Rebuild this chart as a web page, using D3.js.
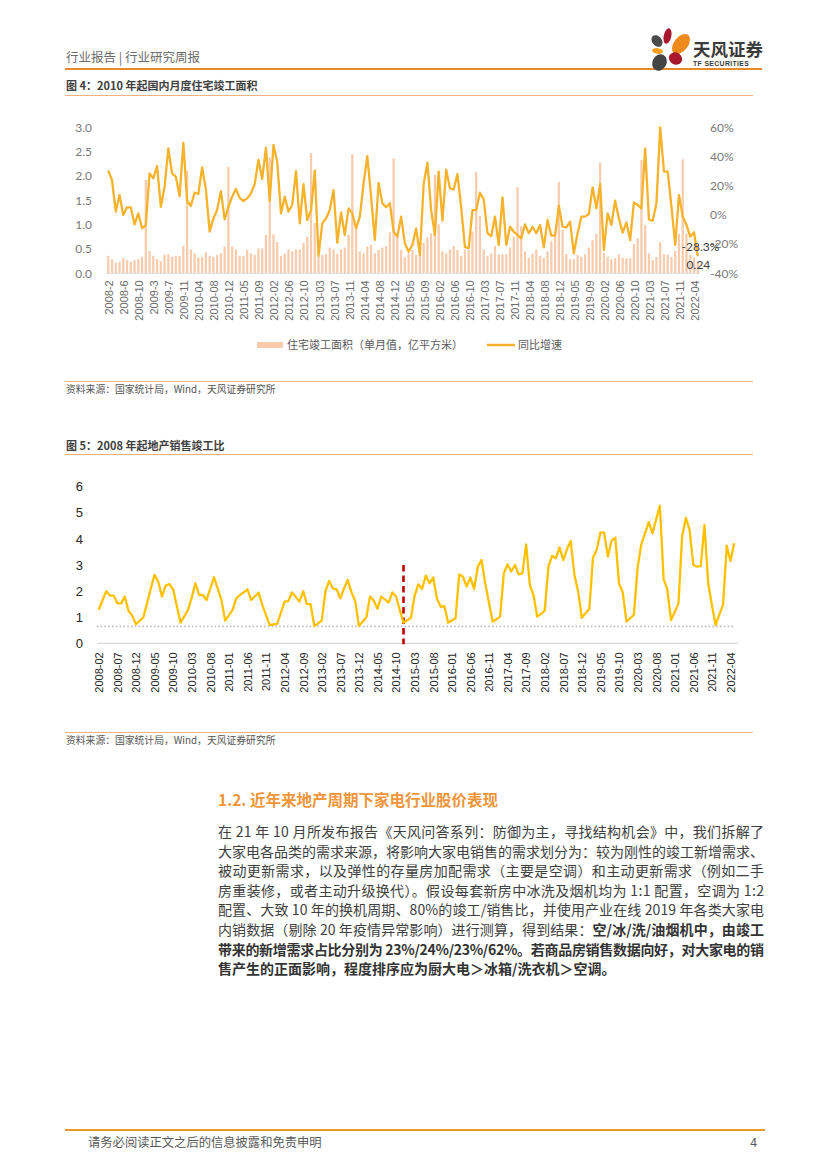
<!DOCTYPE html>
<html><head><meta charset="utf-8">
<script src="https://cdn.jsdelivr.net/npm/d3@7"></script>
<style>
html,body{margin:0;padding:0;background:#fff;}
svg{display:block;}
text{font-family:"Noto Sans CJK SC","Noto Sans",sans-serif;}
</style></head>
<body>
<svg id="page" width="827" height="1169"></svg>
<script>
// ---------- DATA ----------
// Chart 1: monthly residential completion area (Feb–Dec each year, 2008-2 .. 2022-05)
const chart1Years = [2008,2009,2010,2011,2012,2013,2014,2015,2016,2017,2018,2019,2020,2021,2022];
const completionArea = [ // 亿平方米
  0.36,0.29,0.22,0.24,0.31,0.27,0.24,0.27,0.29,0.34,1.92,
  0.46,0.36,0.29,0.25,0.38,0.39,0.34,0.36,0.36,0.56,2.10,
  0.49,0.41,0.32,0.34,0.43,0.36,0.34,0.38,0.41,0.55,2.19,
  0.55,0.49,0.36,0.36,0.48,0.41,0.38,0.51,0.51,0.79,2.38,
  0.80,0.64,0.36,0.41,0.49,0.45,0.49,0.49,0.62,0.75,2.47,
  1.03,0.34,0.38,0.40,0.53,0.49,0.40,0.49,0.53,0.79,2.45,
  1.00,0.45,0.41,0.55,0.58,0.41,0.48,0.53,0.56,0.84,2.36,
  0.75,0.48,0.33,0.41,0.48,0.38,0.38,0.63,0.74,0.82,2.02,
  1.01,0.45,0.41,0.49,0.56,0.48,0.36,0.49,0.48,0.86,2.08,
  1.18,0.49,0.36,0.41,0.56,0.39,0.39,0.39,0.53,0.75,1.77,
  0.97,0.45,0.32,0.40,0.49,0.36,0.32,0.45,0.66,0.77,1.88,
  0.89,0.40,0.29,0.29,0.38,0.34,0.39,0.53,0.68,0.81,2.27,
  0.42,0.34,0.29,0.31,0.39,0.32,0.31,0.31,0.60,0.72,2.33,
  0.99,0.41,0.27,0.34,0.64,0.39,0.38,0.34,0.46,0.81,2.34,
  0.82,0.38,0.32,0.24
];
const completionYoY = [ // %
  30.3,23.9,2.2,13.6,-0.1,5.2,5.2,-6.5,1.0,-9.2,-7.0,
  28.4,25.0,33.5,5.6,19.3,45.6,28.4,26.2,12.9,49.4,9.8,
  6.1,15.2,14.3,32.5,17.5,-11.5,-2.4,3.3,16.3,-3.1,5.6,
  12.5,17.7,11.7,9.5,11.3,14.7,21.1,37.6,24.6,46.1,9.5,
  47.9,36.4,1.0,12.5,2.2,6.8,30.0,-5.8,21.1,-3.5,3.3,
  30.3,-28.0,-5.8,-2.4,3.3,17.0,-19.1,1.7,-13.8,4.5,1.0,
  -9.2,-1.2,21.5,40.3,12.5,-17.2,22.0,7.9,5.2,7.9,-11.5,
  -14.9,-1.2,-19.5,-25.2,-20.6,-9.2,-27.5,21.0,35.8,3.0,-13.8,
  29.6,-4.0,31.0,18.2,17.4,28.0,5.0,-22.0,-22.7,3.3,3.3,
  15.2,10.6,-12.6,-14.5,-1.2,-20.6,12.0,-20.6,-8.1,-11.5,-13.8,
  -16.1,-6.5,-12.6,-8.1,-12.6,-6.9,-22.2,-3.5,-14.2,-14.2,6.3,
  -8.1,-8.5,-4.7,-26.3,-12.6,-1.2,-1.2,0.6,18.9,4.5,21.1,
  -24.1,1.0,-6.9,9.7,-2.4,-12.2,-5.1,-17.2,8.6,6.8,4.5,
  45.6,-3.1,-4.0,7.9,60.0,29.6,29.6,5.6,-20.6,13.6,-1.2,
  -6.9,-14.9,-11.9,-28.3
];
const leftTicks1 = [0,0.5,1,1.5,2,2.5,3];
const rightTicks1 = [-40,-20,0,20,40,60];
const lastLabels1 = ["-28.3%","0.24"];

// Chart 2: sales / completion ratio, monthly 2008-02 .. 2022-05
const salesCompletionRatio = [
  1.28,1.65,2.00,1.83,1.83,1.53,1.53,1.79,1.24,1.06,0.73,
  0.86,1.00,1.55,2.10,2.62,2.36,1.79,2.21,2.27,2.07,1.43,0.79,
  1.03,1.28,1.75,2.30,1.85,1.85,1.66,2.10,2.53,2.10,1.66,0.87,
  1.07,1.28,1.72,1.85,1.95,2.07,1.66,1.80,1.94,1.47,1.08,0.70,
  0.72,0.74,1.17,1.60,1.62,1.95,1.78,1.60,2.00,1.50,1.50,0.66,
  0.76,0.87,2.00,2.39,2.10,2.07,1.72,2.10,2.43,1.95,1.62,0.66,
  0.83,1.00,1.79,1.63,1.32,1.79,1.68,1.56,1.95,1.79,1.28,0.79,
  0.88,0.98,1.83,2.26,2.08,2.59,2.30,2.52,1.72,1.40,1.43,0.79,
  0.87,0.96,2.64,2.55,2.17,2.52,2.08,2.94,3.19,2.30,1.55,0.83,
  0.92,1.02,2.68,3.03,2.75,3.00,2.64,2.68,3.79,2.24,1.83,1.02,
  1.13,1.25,2.94,3.35,3.26,3.67,3.19,3.60,3.92,2.62,1.98,0.98,
  1.15,1.32,3.28,3.58,4.25,4.24,3.32,3.93,4.05,2.30,1.95,0.83,
  0.96,1.09,2.90,3.79,4.21,4.64,4.21,4.75,5.27,2.46,2.07,0.89,
  1.20,1.53,4.11,4.81,4.34,3.00,2.94,2.96,4.53,2.30,1.47,0.70,
  1.10,1.47,3.74,3.15,3.83
];
const yTicks2 = [0,1,2,3,4,5,6];
const thresholdLevel = 0.65;
const markerMonth = "2014-12";
const markerTop = 3.0;

// Text content
const headerLeft = "行业报告 | 行业研究周报";
const title1 = "图 4：2010 年起国内月度住宅竣工面积";
const title2 = "图 5：2008 年起地产销售竣工比";
const sourceText = "资料来源：国家统计局，Wind，天风证券研究所";
const legend1 = ["住宅竣工面积（单月值，亿平方米）","同比增速"];
const sectionTitle = "1.2. 近年来地产周期下家电行业股价表现";
const bodyLines = [
  [["在 21 年 10 月所发布报告《天风问答系列：防御为主，寻找结构机会》中，我们拆解了",0]],
  [["大家电各品类的需求来源，将影响大家电销售的需求划分为：较为刚性的竣工新增需求、",0]],
  [["被动更新需求，以及弹性的存量房加配需求（主要是空调）和主动更新需求（例如二手",0]],
  [["房重装修，或者主动升级换代）。假设每套新房中冰洗及烟机均为 1:1 配置，空调为 1:2",0]],
  [["配置、大致 10 年的换机周期、80%的竣工/销售比，并使用产业在线 2019 年各类大家电",0]],
  [["内销数据（剔除 20 年疫情异常影响）进行测算，得到结果：",0],["空/冰/洗/油烟机中，由竣工",1]],
  [["带来的新增需求占比分别为 23%/24%/23%/62%。若商品房销售数据向好，对大家电的销",1]],
  [["售产生的正面影响，程度排序应为厨大电＞冰箱/洗衣机＞空调。",1]]
];
const footerText = "请务必阅读正文之后的信息披露和免责申明";
const pageNo = "4";

// ---------- CATEGORY LABELS ----------
const cats1 = [];
chart1Years.forEach(y => {
  const last = y === 2022 ? 5 : 12;
  for (let m = 2; m <= last; m++) cats1.push(y < 2010 ? `${y}-${m}` : `${y}-${String(m).padStart(2,"0")}`);
});
const cats2 = [];
for (let y = 2008; y <= 2022; y++) {
  const first = y === 2008 ? 2 : 1, last = y === 2022 ? 5 : 12;
  for (let m = first; m <= last; m++) cats2.push(`${y}-${String(m).padStart(2,"0")}`);
}

// ---------- PAGE ----------
const svg = d3.select("#page");
const ORANGE = "#E8892B", THIN = "#F4B183";

// header
svg.append("text").attr("x",66).attr("y",58).attr("dy","0.35em")
  .attr("font-size",12.5).attr("fill","#6b6b6b").text(headerLeft);
svg.append("line").attr("x1",65).attr("x2",762).attr("y1",69).attr("y2",69)
  .attr("stroke",ORANGE).attr("stroke-width",2);

// logo
const logo = svg.append("g");
const petals = [
  [667.5,36,3.8,8,12,"#A8192F"],
  [681,44,7,11.5,38,"#EF8A1F"],
  [657,41,4.8,6.5,-40,"#4B4B4B"],
  [657.5,51,5.5,2.8,8,"#F4A11E"],
  [659.5,62.5,7,8.5,28,"#444444"],
  [675.5,58.5,6.8,6,30,"#A8192F"]
];
petals.forEach(p => logo.append("ellipse").attr("cx",p[0]).attr("cy",p[1]).attr("rx",p[2]).attr("ry",p[3])
  .attr("transform",`rotate(${p[4]},${p[0]},${p[1]})`).attr("fill",p[5]));
logo.append("text").attr("x",693).attr("y",49.5).attr("dy","0.35em").attr("font-size",17.5)
  .attr("font-weight","bold").attr("fill","#3a3a3a").text("天风证券");
logo.append("text").attr("x",693).attr("y",63.5).attr("dy","0.35em").attr("font-size",6.8)
  .attr("font-weight","bold").attr("letter-spacing",0.4).attr("fill","#3a3a3a")
  .style("font-family","'Liberation Sans',sans-serif").text("TF SECURITIES");

// ---------- CHART 1 ----------
svg.append("text").attr("x",66).attr("y",86.5).attr("dy","0.35em").attr("font-size",11)
  .attr("font-weight","bold").attr("fill","#404040").text(title1);
svg.append("line").attr("x1",65).attr("x2",753).attr("y1",95.5).attr("y2",95.5).attr("stroke",THIN).attr("stroke-width",1);

const x1 = d3.scaleBand().domain(cats1).range([106,700]).paddingInner(0.4).paddingOuter(0.3);
const yL = d3.scaleLinear().domain([0,3]).range([273.3,127.3]);
const yR = d3.scaleLinear().domain([-40,60]).range([273.3,127.3]);
const c1 = svg.append("g");

c1.append("g").selectAll("rect").data(completionArea).join("rect")
  .attr("x",(d,i)=>x1(cats1[i])).attr("width",x1.bandwidth())
  .attr("y",d=>yL(d)).attr("height",d=>yL(0)-yL(d)).attr("fill","#F8CBAD");

c1.append("line").attr("x1",x1.range()[0]).attr("x2",x1.range()[1]).attr("y1",yL(0)).attr("y2",yL(0))
  .attr("stroke","#D9D9D9").attr("stroke-width",1);

const line1 = d3.line().x((d,i)=>x1(cats1[i])+x1.bandwidth()/2).y(d=>yR(d));
c1.append("path").datum(completionYoY).attr("d",line1).attr("fill","none")
  .attr("stroke","#F7B22C").attr("stroke-width",2.3).attr("stroke-linejoin","round");

// axes
const axL = c1.append("g").attr("transform","translate(95,0)")
  .call(d3.axisLeft(yL).tickValues(leftTicks1).tickFormat(d3.format(".1f")).tickSize(0).tickPadding(3));
axL.select(".domain").remove();
axL.selectAll("text").attr("font-size",12).attr("fill","#7a7a7a").style("font-family","Lato,sans-serif");
const axR = c1.append("g").attr("transform","translate(707,0)")
  .call(d3.axisRight(yR).tickValues(rightTicks1).tickFormat(d=>d+"%").tickSize(0).tickPadding(3));
axR.select(".domain").remove();
axR.selectAll("text").attr("font-size",12).attr("fill","#7a7a7a").style("font-family","Lato,sans-serif");

const axB1 = c1.append("g").attr("transform",`translate(${x1.bandwidth()/2},${yL(0)})`)
  .call(d3.axisBottom(x1).tickValues(cats1.filter((d,i)=>i%4===0)).tickSize(0));
axB1.select(".domain").remove();
axB1.selectAll("text").attr("transform","rotate(-90)").attr("text-anchor","end")
  .attr("x",-7).attr("y",0).attr("dy","0.35em").attr("font-size",11).attr("fill","#6b6b6b")
  .style("font-family","'Liberation Sans',sans-serif");

// end labels
const lastIdx = cats1.length-1;
c1.append("text").attr("x",x1(cats1[lastIdx])-15).attr("y",yR(completionYoY[lastIdx])-9).attr("dy","0.35em")
  .attr("font-size",12).attr("fill","#404040").style("font-family","Lato,sans-serif").text(lastLabels1[0]);
c1.append("text").attr("x",x1(cats1[lastIdx])-10).attr("y",yL(completionArea[lastIdx])+3.5).attr("dy","0.35em")
  .attr("font-size",12).attr("fill","#404040").style("font-family","Lato,sans-serif").text(lastLabels1[1]);

// legend
c1.append("rect").attr("x",257).attr("y",342).attr("width",26).attr("height",6).attr("fill","#F8CBAD");
c1.append("text").attr("x",287).attr("y",345).attr("dy","0.35em").attr("font-size",11).attr("fill","#595959").text(legend1[0]);
c1.append("line").attr("x1",487).attr("x2",515).attr("y1",345).attr("y2",345).attr("stroke","#F7B22C").attr("stroke-width",2.5);
c1.append("text").attr("x",518).attr("y",345).attr("dy","0.35em").attr("font-size",11).attr("fill","#595959").text(legend1[1]);

svg.append("line").attr("x1",65).attr("x2",753).attr("y1",381.5).attr("y2",381.5).attr("stroke",THIN).attr("stroke-width",1);
svg.append("text").attr("x",66).attr("y",389.5).attr("dy","0.35em").attr("font-size",9.8).attr("fill","#555").text(sourceText);

// ---------- CHART 2 ----------
svg.append("text").attr("x",66).attr("y",446.5).attr("dy","0.35em").attr("font-size",11)
  .attr("font-weight","bold").attr("fill","#404040").text(title2);
svg.append("line").attr("x1",65).attr("x2",753).attr("y1",454.5).attr("y2",454.5).attr("stroke",THIN).attr("stroke-width",1);

const x2 = d3.scalePoint().domain(cats2).range([98.8,734.2]);
const y2 = d3.scaleLinear().domain([0,6]).range([643.3,486.7]);
const c2 = svg.append("g");

c2.append("line").attr("x1",97).attr("x2",738).attr("y1",y2(0)).attr("y2",y2(0)).attr("stroke","#D9D9D9").attr("stroke-width",1.2);
c2.append("line").attr("x1",x2.range()[0]-2).attr("x2",x2.range()[1]).attr("y1",y2(thresholdLevel)).attr("y2",y2(thresholdLevel))
  .attr("stroke","#BFBFBF").attr("stroke-width",1.6).attr("stroke-dasharray","1.6,2.2");
c2.append("line").attr("x1",x2(markerMonth)).attr("x2",x2(markerMonth)).attr("y1",y2(markerTop)).attr("y2",y2(0)+1)
  .attr("stroke","#C00000").attr("stroke-width",2.6).attr("stroke-dasharray","6.5,4");

const line2 = d3.line().x((d,i)=>x2(cats2[i])).y(d=>y2(d));
c2.append("path").datum(salesCompletionRatio).attr("d",line2).attr("fill","none")
  .attr("stroke","#FFC000").attr("stroke-width",2.3).attr("stroke-linejoin","round");

const axL2 = c2.append("g").attr("transform","translate(86,0)")
  .call(d3.axisLeft(y2).tickValues(yTicks2).tickFormat(d3.format("d")).tickSize(0).tickPadding(3));
axL2.select(".domain").remove();
axL2.selectAll("text").attr("font-size",13).attr("fill","#262626").style("font-family","'Liberation Sans',sans-serif");

const axB2 = c2.append("g").attr("transform",`translate(0,${y2(0)})`)
  .call(d3.axisBottom(x2).tickValues(cats2.filter((d,i)=>i%5===0)).tickSize(0));
axB2.select(".domain").remove();
axB2.selectAll("text").attr("transform","rotate(-90)").attr("text-anchor","end")
  .attr("x",-9).attr("y",0).attr("dy","0.35em").attr("font-size",11).attr("fill","#262626")
  .style("font-family","'Liberation Sans',sans-serif");

svg.append("line").attr("x1",65).attr("x2",753).attr("y1",732.5).attr("y2",732.5).attr("stroke",THIN).attr("stroke-width",1);
svg.append("text").attr("x",66).attr("y",740.5).attr("dy","0.35em").attr("font-size",9.8).attr("fill","#555").text(sourceText);

// ---------- TEXT SECTION ----------
svg.append("text").attr("x",218).attr("y",801).attr("dy","0.35em").attr("font-size",15.5)
  .attr("font-weight","bold").attr("fill","#F0953A").text(sectionTitle);

const lineH = 19.6, firstY = 832, textW = 546;
bodyLines.forEach((segs,k) => {
  const t = svg.append("text").attr("x",218).attr("y",firstY + k*lineH).attr("dy","0.35em")
    .attr("font-size",14).attr("fill","#404040");
  segs.forEach(s => t.append("tspan").attr("font-weight", s[1] ? "bold" : "normal")
    .attr("fill", s[1] ? "#333" : "#404040").text(s[0]));
  if (k < bodyLines.length-1) t.attr("textLength",textW).attr("lengthAdjust","spacing");
});

// ---------- FOOTER ----------
svg.append("line").attr("x1",65).attr("x2",765).attr("y1",1130).attr("y2",1130).attr("stroke","#E8992E").attr("stroke-width",2);
svg.append("text").attr("x",88).attr("y",1142.5).attr("dy","0.35em").attr("font-size",12.3).attr("fill","#595959").text(footerText);
svg.append("text").attr("x",757).attr("y",1142.5).attr("dy","0.35em").attr("text-anchor","end").attr("font-size",12.3).attr("fill","#595959").text(pageNo);
</script>
</body></html>
